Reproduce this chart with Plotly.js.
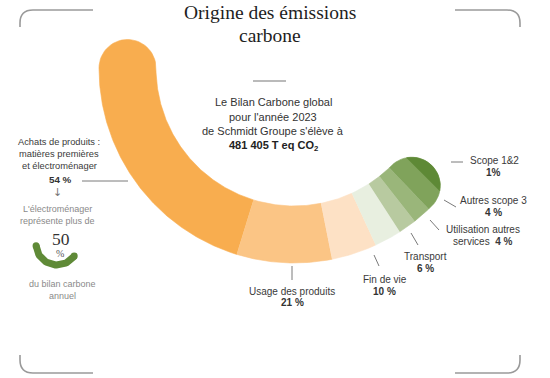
<!DOCTYPE html>
<html><head><meta charset="utf-8">
<script src="https://cdn.plot.ly/plotly-3.0.1.min.js"></script>
<style>html,body{margin:0;padding:0;background:#fff;} #chart{width:550px;height:378px;}</style>
</head><body><div id="chart"></div>
<script>
// ---- data ----
const categories = ["Achats de produits : matières premières et électroménager", "Usage des produits", "Fin de vie", "Transport", "Utilisation autres services", "Autres scope 3", "Scope 1&2"];
const shares = [54, 21, 10, 6, 4, 4, 1];
const totalLabel = "481 405 T eq CO<sub>2</sub>";
const year = 2023;
const electroShare = 50;

// ---- style ----
const colors = ["#f8ad4f", "#fbc585", "#fde1c5", "#e8efe0", "#b8caa0", "#9ab67a", "#80a35b"];
const TIP_COLOR = "#5e8936";
const CX = 294, CY = 68, R_IN = 138, R_OUT = 195;
const A_START = 180, SPAN = 135;
const H = (R_OUT - R_IN) / 2, RM = (R_OUT + R_IN) / 2;

function pt(r, a) {
  const t = a * Math.PI / 180;
  return [CX + r * Math.cos(t), CY - r * Math.sin(t)];
}
function capPt(a, dir, th) {
  const t = a * Math.PI / 180;
  const M = pt(RM, a);
  const u = [Math.cos(t), -Math.sin(t)];
  const tg = [-Math.sin(t), -Math.cos(t)];
  return [M[0] + H * (Math.cos(th) * u[0] + dir * Math.sin(th) * tg[0]),
          M[1] + H * (Math.cos(th) * u[1] + dir * Math.sin(th) * tg[1])];
}
function cap(a, dir) {
  const pts = [], n = 30;
  for (let k = 0; k <= n; k++) {
    const th = dir > 0 ? Math.PI * k / n : Math.PI * (n - k) / n;
    pts.push(capPt(a, dir, th));
  }
  return pts;
}

const total = shares.reduce((s, v) => s + v, 0);
const traces = [];
let cum = 0, aEnd = A_START;
shares.forEach((v, i) => {
  const a0 = A_START + SPAN * cum / total;
  cum += v;
  const a1 = A_START + SPAN * cum / total;
  aEnd = a1;
  const pts = [];
  const n = Math.max(4, Math.ceil((a1 - a0) * 2));
  for (let k = 0; k <= n; k++) pts.push(pt(R_OUT, a0 + (a1 - a0) * k / n));
  if (i === shares.length - 1) pts.push(...cap(a1, 1));
  for (let k = n; k >= 0; k--) pts.push(pt(R_IN, a0 + (a1 - a0) * k / n));
  if (i === 0) pts.push(...cap(a0, -1));
  traces.push({
    type: "scatter", mode: "lines", fill: "toself",
    x: pts.map(p => p[0]), y: pts.map(p => p[1]),
    fillcolor: colors[i], line: {color: colors[i], width: 0.6},
    hoverinfo: "text", text: categories[i] + " " + v + " %", showlegend: false
  });
});
// darker tip of the end cap
(function () {
  const d = 16;
  const th0 = Math.asin(d / H), th1 = Math.PI - th0;
  const pts = [];
  for (let k = 0; k <= 30; k++) pts.push(capPt(aEnd, 1, th0 + (th1 - th0) * k / 30));
  traces.push({type: "scatter", mode: "lines", fill: "toself",
    x: pts.map(p => p[0]), y: pts.map(p => p[1]),
    fillcolor: TIP_COLOR, line: {color: TIP_COLOR, width: 0.6}, hoverinfo: "skip", showlegend: false});
})();

// small green arc beside "50 %"
(function () {
  const c = [57, 244], r = 21, a0 = 185, a1 = 325;
  const xs = [], ys = [];
  for (let k = 0; k <= 40; k++) {
    const t = (a0 + (a1 - a0) * k / 40) * Math.PI / 180;
    xs.push(c[0] + r * Math.cos(t)); ys.push(c[1] - r * Math.sin(t));
  }
  traces.push({type: "scatter", mode: "lines", x: xs, y: ys, line: {color: "#5f8a37", width: 7}, hoverinfo: "skip", showlegend: false});
  traces.push({type: "scatter", mode: "markers", x: [xs[0], xs[40]], y: [ys[0], ys[40]], marker: {color: "#5f8a37", size: 7}, hoverinfo: "skip", showlegend: false});
})();

const SANS = "Liberation Sans, Arial, sans-serif";
const SERIF = "Liberation Serif, Times New Roman, serif";
const anns = [];
function ann(x, y, text, size, color, family) {
  anns.push({x: x, y: y, xref: "x", yref: "y", text: text, showarrow: false,
    xanchor: "center", yanchor: "middle",
    font: {family: family || SANS, size: size, color: color || "#3a3a3a"}});
}
// title
ann(270, 12.5, "Origine des émissions", 19.5, "#1e1e1e", SERIF);
ann(270, 35, "carbone", 19.5, "#1e1e1e", SERIF);
// center text
ann(273, 101.5, "Le Bilan Carbone global", 11, "#333");
ann(273, 116.5, "pour l'année " + year, 11, "#333");
ann(273, 131, "de Schmidt Groupe s'élève à", 11, "#333");
ann(273, 145.5, "<b>" + totalLabel + "</b>", 11, "#222");
// left block
ann(59, 141.5, "Achats de produits :", 9.3, "#3a3a3a");
ann(59, 153.5, "matières premières", 9.3, "#3a3a3a");
ann(59, 165.5, "et électroménager", 9.3, "#3a3a3a");
ann(60, 179.5, "<b>" + shares[0] + " %</b>", 9.8, "#333");
ann(57, 192, "↓", 11, "#777", "DejaVu Sans");
ann(57, 209, "L'électroménager", 9, "#8a8a8a");
ann(57, 221, "représente plus de", 9, "#8a8a8a");
ann(61, 239, String(electroShare), 17.5, "#333", SERIF);
ann(60, 253.5, "%", 10, "#555", SERIF);
ann(62, 284, "du bilan carbone", 9, "#8a8a8a");
ann(62, 296, "annuel", 9, "#8a8a8a");
// bottom / right labels
ann(292, 291, "Usage des produits", 10);
ann(292, 302.5, "<b>" + shares[1] + " %</b>", 10, "#333");
ann(384.5, 279, "Fin de vie", 10);
ann(384.5, 291.5, "<b>" + shares[2] + " %</b>", 10, "#333");
ann(425.5, 256.5, "Transport", 10);
ann(425.5, 268.5, "<b>" + shares[3] + " %</b>", 10, "#333");
ann(483, 229, "Utilisation autres", 10);
ann(483, 241, "services  <b>" + shares[4] + " %</b>", 10);
ann(493, 200, "Autres scope 3", 10);
ann(493, 212, "<b>" + shares[5] + " %</b>", 10, "#333");
ann(494, 160.5, "Scope 1&amp;2", 10);
ann(493.5, 172.5, "<b>" + shares[6] + "%</b>", 10, "#333");

const LC = "#7a7a7a";
function seg(x0, y0, x1, y1, c, w) {
  return {type: "line", xref: "x", yref: "y", x0: x0, y0: y0, x1: x1, y1: y1, line: {color: c || LC, width: w || 1}};
}
const FR = "#9a9a9a";
function fpath(d) { return {type: "path", xref: "x", yref: "y", path: d, line: {color: FR, width: 1.6}}; }
const shapes = [
  seg(253, 81, 286, 81, "#777", 1.2),
  seg(82, 181, 128, 181),
  seg(292, 266, 292, 280),
  seg(374, 255, 379, 266),
  seg(411, 233, 418, 245),
  seg(430, 220, 439, 230),
  seg(444, 200, 456, 207),
  seg(451, 162, 463, 162),
  fpath("M 93 10 L 33 10 Q 20 10 20 23 L 20 27"),
  fpath("M 455 10 L 507 10 Q 520 10 520 23 L 520 27"),
  fpath("M 20 355 L 20 360 Q 20 373 33 373 L 93 373"),
  fpath("M 455 373 L 507 373 Q 520 373 520 360 L 520 355")
];

const layout = {
  width: 550, height: 378,
  margin: {l: 0, r: 0, t: 0, b: 0},
  paper_bgcolor: "#ffffff", plot_bgcolor: "#ffffff",
  xaxis: {range: [0, 550], visible: false, fixedrange: true},
  yaxis: {range: [378, 0], visible: false, fixedrange: true},
  showlegend: false,
  annotations: anns,
  shapes: shapes
};
Plotly.newPlot("chart", traces, layout, {staticPlot: true, displayModeBar: false});
</script>
</body></html>
